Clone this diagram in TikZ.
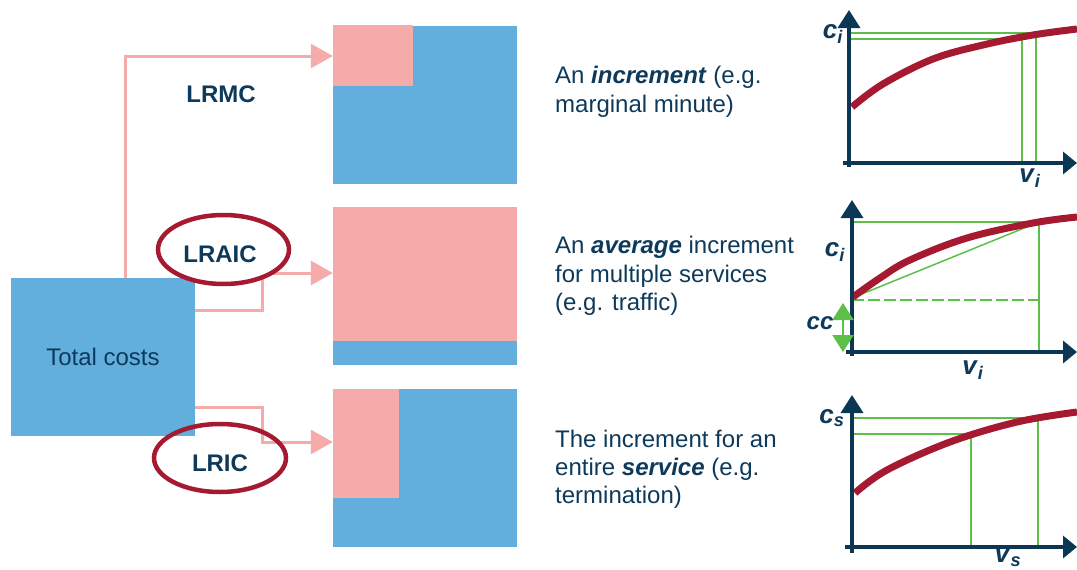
\documentclass[tikz,border=0pt]{standalone}
\usepackage{fontspec}
\setmainfont{Liberation Sans}
\usetikzlibrary{arrows.meta,shapes.geometric}
\definecolor{cblue}{HTML}{62AEDC}
\definecolor{cpink}{HTML}{F4ABAA}
\definecolor{navy}{HTML}{0D3A5A}
\definecolor{axnavy}{HTML}{0B3654}
\definecolor{dred}{HTML}{A51931}
\definecolor{cgreen}{HTML}{5CBF47}
\newcommand\glab[2]{\textbf{\textit{#1}}\textsubscript{\textbf{\textit{#2}}}}
\tikzset{
  blk/.style={draw=none,fill=cblue,inner sep=0pt,rectangle},
  conn/.style={draw=cpink,line width=3pt,-{Triangle[length=22pt,width=24pt]}},
  oval/.style={ellipse,draw=dred,line width=4.5pt,inner sep=0pt},
  lbl/.style={text=navy,font=\fontsize{24}{28}\selectfont\bfseries,inner sep=0pt},
  body/.style={text=navy,font=\fontsize{24}{28}\selectfont,inner sep=0pt,anchor=base west},
  axis/.style={draw=axnavy,line width=3.5pt,-{Triangle[length=18pt,width=22pt]}},
  xaxis/.style={draw=axnavy,line width=3.5pt,-{Triangle[length=14pt,width=22pt]}},
  curve/.style={draw=dred,line width=7pt},
  gl/.style={draw=cgreen,line width=1.5pt},
  glab/.style={text=navy,font=\fontsize{26}{28}\selectfont,inner sep=0pt},
}
\begin{document}
\begin{tikzpicture}[x=1pt,y=-1pt]
\useasboundingbox (0,0) rectangle (1077,570);
% total costs
\node[blk,minimum width=184pt,minimum height=158pt,text=navy,font=\fontsize{24}{28}\selectfont] (tc) at (103,357) {Total costs};
% squares
\node[blk,minimum width=184pt,minimum height=158pt] (sq1) at (425,105) {};
\fill[cpink] (sq1.north west) ++(0,-1) rectangle (413,86);
\node[blk,fill=cpink,minimum width=184pt,minimum height=158pt] (sq2) at (425,286) {};
\fill[cblue] (333,341) rectangle (sq2.south east);
\node[blk,minimum width=184pt,minimum height=158pt] (sq3) at (425,468) {};
\fill[cpink] (sq3.north west) rectangle (399,498);
% connectors
\coordinate (b1) at (125,56);
\coordinate (b2) at (262,310);
\coordinate (b3) at (262,273);
\coordinate (b4) at (262,407);
\coordinate (b5) at (262,442);
\draw[conn] (tc.north -| b1) |- (sq1.west |- b1);
\draw[conn] (tc.east |- b2) -| (b3) -- (sq2.west |- b3);
\draw[conn] (tc.east |- b4) -| (b5) -- (sq3.west |- b5);
% labels
\node[lbl] (lrmc) at (221,94) {LRMC};
\node[oval,fill=white,minimum width=131pt,minimum height=69pt] (lraic) at (223.5,249.5) {};
\node[lbl] (lraict) at (220,254) {LRAIC};
\node[oval,minimum width=132pt,minimum height=68pt] (lric) at (220,458) {};
\node[lbl] (lrict) at (220,463) {LRIC};
% right texts
\node[body] (t1a) at (555,83) {An \textbf{\textit{increment}} (e.g.};
\node[body] (t1b) at (555,112) {marginal minute)};
\node[body] (t2a) at (555,253) {An \textbf{\textit{average}} increment};
\node[body] (t2b) at (555,282) {for multiple services};
\node[body] (t2c) at (555,310) {(e.g. traffic)};
\node[body] (t3a) at (555,447) {The increment for an};
\node[body] (t3b) at (555,475) {entire \textbf{\textit{service}} (e.g.};
\node[body] (t3c) at (555,503) {termination)};
% graph 1
\draw[gl] (849,33) -- (1036,33) -- (1036,163);
\draw[gl] (849,39) -- (1022,39) -- (1022,163);
\draw[curve] plot[smooth,tension=0.6] coordinates {(852,107) (883,84) (933,59) (983,45) (1033,35) (1077,29)};
\draw[axis] (849,167) -- (849,10);
\draw[xaxis] (843,163) -- (1077,163);
\node[glab] (c1) at (833,34) {\glab{c}{i}};
\node[glab] (v1) at (1030,178) {\glab{v}{i}};
% graph 2
\draw[gl] (852,222) -- (1039,222) -- (1039,352);
\draw[gl] (852,298) -- (1039,222);
\draw[gl,dash pattern=on 12pt off 4pt] (852,300) -- (1039,300);
\draw[curve] plot[smooth,tension=0.6] coordinates {(853,297) (880,278) (910,260) (967,238) (1033,223) (1077,217)};
\draw[axis] (852,356) -- (852,200);
\draw[xaxis] (846,352) -- (1077,352);
\draw[draw=cgreen,line width=2pt,{Triangle[length=17pt,width=21pt]}-{Triangle[length=17pt,width=21pt]}] (843,303) -- (843,352);
\node[glab] (c2) at (835,252) {\glab{c}{i}};
\node[glab,font=\fontsize{24}{28}\selectfont\bfseries\itshape] (cc) at (820,323) {cc};
\node[glab] (v2) at (973,370) {\glab{v}{i}};
% graph 3
\draw[gl] (852,418) -- (1038,418) -- (1038,547);
\draw[gl] (852,434) -- (971,434) -- (971,547);
\draw[curve] plot[smooth,tension=0.6] coordinates {(855,493) (887,470) (950,442) (1017,422) (1077,412)};
\draw[axis] (852,553) -- (852,395);
\draw[xaxis] (845,547) -- (1077,547);
\node[glab] (c3) at (832,418) {\glab{c}{s}};
\node[glab] (v3) at (1008,558) {\glab{v}{s}};
\end{tikzpicture}
\end{document}
